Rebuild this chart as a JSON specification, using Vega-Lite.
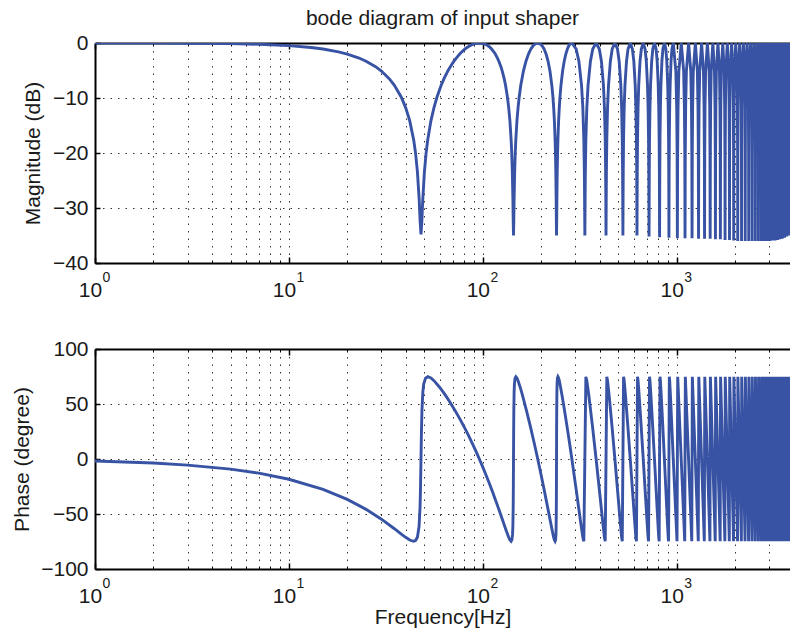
{
"$schema": "https://vega.github.io/schema/vega-lite/v6.json",
"background": "white",
"padding": {"left": 11, "top": 8, "right": 0, "bottom": 4},
"bounds": "flush",
"spacing": 86,
"datasets": {
"mag": [
{"f":1,"m":-0.005},{"f":2,"m":-0.019},{"f":3,"m":-0.042},{"f":5,"m":-0.117},{"f":7,"m":-0.23},{"f":10,"m":-0.474},{"f":13,"m":-0.811},{"f":15,"m":-1.091},{"f":18,"m":-1.603},{"f":20,"m":-2.011},{"f":23,"m":-2.735},{"f":25,"m":-3.307},{"f":28,"m":-4.311},{"f":30,"m":-5.105},{"f":33,"m":-6.532},{"f":35,"m":-7.685},{"f":38,"m":-9.858},{"f":40,"m":-11.74},{"f":42,"m":-14.16},{"f":44,"m":-17.61},{"f":45,"m":-20.03},{"f":46,"m":-23.38},{"f":47,"m":-28.58},{"f":47.5,"m":-32.34},{"f":48,"m":-34.8},
{"f":48.5,"m":-32.34},{"f":49,"m":-28.58},{"f":50,"m":-23.38},{"f":51,"m":-20.03},{"f":52,"m":-17.61},{"f":54,"m":-14.16},{"f":56,"m":-11.74},{"f":58,"m":-9.86},{"f":61,"m":-7.69},{"f":63,"m":-6.53},{"f":66,"m":-5.1},{"f":68,"m":-4.31},{"f":71,"m":-3.31},{"f":73,"m":-2.74},{"f":76,"m":-2.01},{"f":78,"m":-1.6},{"f":81,"m":-1.09},{"f":83,"m":-0.81},{"f":86,"m":-0.47},{"f":89,"m":-0.23},{"f":91,"m":-0.117},{"f":93,"m":-0.042},{"f":96,"m":0},
{"f":99,"m":-0.042},{"f":101,"m":-0.117},{"f":103,"m":-0.23},{"f":106,"m":-0.47},{"f":109,"m":-0.81},{"f":111,"m":-1.09},{"f":114,"m":-1.6},{"f":116,"m":-2.01},{"f":119,"m":-2.74},{"f":121,"m":-3.31},{"f":124,"m":-4.31},{"f":126,"m":-5.1},{"f":129,"m":-6.53},{"f":131,"m":-7.69},{"f":134,"m":-9.86},{"f":136,"m":-11.74},{"f":138,"m":-14.16},{"f":140,"m":-17.61},{"f":141,"m":-20.03},{"f":142,"m":-23.38},{"f":143,"m":-28.58},{"f":143.5,"m":-32.34},{"f":144,"m":-35},
{"f":144.5,"m":-32.34},{"f":145,"m":-28.58},{"f":146,"m":-23.38},{"f":147,"m":-20.03},{"f":148,"m":-17.61},{"f":150,"m":-14.16},{"f":152,"m":-11.74},{"f":154,"m":-9.86},{"f":157,"m":-7.69},{"f":162,"m":-5.1},{"f":167,"m":-3.31},{"f":172,"m":-2.01},{"f":177,"m":-1.09},{"f":182,"m":-0.47},{"f":187,"m":-0.117},{"f":192,"m":0},
{"f":197,"m":-0.117},{"f":202,"m":-0.47},{"f":207,"m":-1.09},{"f":212,"m":-2.01},{"f":217,"m":-3.31},{"f":222,"m":-5.1},{"f":227,"m":-7.69},{"f":230,"m":-9.86},{"f":232,"m":-11.74},{"f":234,"m":-14.16},{"f":236,"m":-17.61},{"f":237,"m":-20.03},{"f":238,"m":-23.38},{"f":239,"m":-28.58},{"f":239.5,"m":-32.34},{"f":240,"m":-35},
{"f":240.5,"m":-32.34},{"f":241,"m":-28.58},{"f":242,"m":-23.38},{"f":243,"m":-20.03},{"f":244,"m":-17.61},{"f":246,"m":-14.16},{"f":248,"m":-11.74},{"f":250,"m":-9.86},{"f":253,"m":-7.69},{"f":258,"m":-5.1},{"f":263,"m":-3.31},{"f":268,"m":-2.01},{"f":273,"m":-1.09},{"f":278,"m":-0.47},{"f":283,"m":-0.117},{"f":288,"m":0},
{"f":303,"m":-1.09},{"f":313,"m":-3.31},{"f":323,"m":-7.69},{"f":328,"m":-11.74},{"f":332,"m":-17.61},{"f":334,"m":-23.38},{"f":335,"m":-28.58},{"f":336,"m":-35},{"f":337,"m":-28.58},{"f":338,"m":-23.38},{"f":340,"m":-17.61},{"f":344,"m":-11.74},{"f":349,"m":-7.69},{"f":359,"m":-3.31},{"f":369,"m":-1.09},{"f":384,"m":0},
{"f":399,"m":-1.09},{"f":409,"m":-3.31},{"f":419,"m":-7.69},{"f":424,"m":-11.74},{"f":428,"m":-17.61},{"f":430,"m":-23.38},{"f":431,"m":-28.58},{"f":432,"m":-35},{"f":433,"m":-28.58},{"f":434,"m":-23.38},{"f":436,"m":-17.61},{"f":440,"m":-11.74},{"f":445,"m":-7.69},{"f":455,"m":-3.31},{"f":465,"m":-1.09},{"f":480,"m":0},
{"f":495,"m":-1.09},{"f":505,"m":-3.31},{"f":515,"m":-7.69},{"f":520,"m":-11.74},{"f":524,"m":-17.61},{"f":526,"m":-23.38},{"f":527,"m":-28.58},{"f":528,"m":-35},{"f":529,"m":-28.58},{"f":530,"m":-23.38},{"f":532,"m":-17.61},{"f":536,"m":-11.74},{"f":541,"m":-7.69},{"f":551,"m":-3.31},{"f":561,"m":-1.09},{"f":576,"m":0},
{"f":591,"m":-1.09},{"f":601,"m":-3.31},{"f":611,"m":-7.69},{"f":616,"m":-11.74},{"f":620,"m":-17.61},{"f":622,"m":-23.38},{"f":623,"m":-28.58},{"f":624,"m":-35},{"f":625,"m":-28.58},{"f":626,"m":-23.38},{"f":628,"m":-17.61},{"f":632,"m":-11.74},{"f":637,"m":-7.69},{"f":647,"m":-3.31},{"f":657,"m":-1.09},{"f":672,"m":0},
{"f":687,"m":-1.09},{"f":697,"m":-3.31},{"f":707,"m":-7.69},{"f":712,"m":-11.74},{"f":716,"m":-17.61},{"f":718,"m":-23.38},{"f":719,"m":-28.58},{"f":720,"m":-35.2},{"f":721,"m":-28.58},{"f":722,"m":-23.38},{"f":724,"m":-17.61},{"f":728,"m":-11.74},{"f":733,"m":-7.69},{"f":743,"m":-3.31},{"f":753,"m":-1.09},{"f":768,"m":0},
{"f":783,"m":-1.09},{"f":793,"m":-3.31},{"f":803,"m":-7.69},{"f":808,"m":-11.74},{"f":812,"m":-17.61},{"f":814,"m":-23.38},{"f":815,"m":-28.58},{"f":816,"m":-35.3},{"f":817,"m":-28.58},{"f":818,"m":-23.38},{"f":820,"m":-17.61},{"f":824,"m":-11.74},{"f":829,"m":-7.69},{"f":839,"m":-3.31},{"f":849,"m":-1.09},{"f":864,"m":0},
{"f":879,"m":-1.09},{"f":889,"m":-3.31},{"f":899,"m":-7.69},{"f":904,"m":-11.74},{"f":908,"m":-17.61},{"f":910,"m":-23.38},{"f":911,"m":-28.58},{"f":912,"m":-35.4},{"f":913,"m":-28.58},{"f":914,"m":-23.38},{"f":916,"m":-17.61},{"f":920,"m":-11.74},{"f":925,"m":-7.69},{"f":935,"m":-3.31},{"f":945,"m":-1.09},{"f":960,"m":0},
{"f":990,"m":-5.1},{"f":1000,"m":-11.74},{"f":1005,"m":-20.03},{"f":1008,"m":-35.5},{"f":1011,"m":-20.03},{"f":1016,"m":-11.74},{"f":1026,"m":-5.1},{"f":1056,"m":0},
{"f":1086,"m":-5.1},{"f":1096,"m":-11.74},{"f":1101,"m":-20.03},{"f":1104,"m":-35.5},{"f":1107,"m":-20.03},{"f":1112,"m":-11.74},{"f":1122,"m":-5.1},{"f":1152,"m":0},
{"f":1182,"m":-5.1},{"f":1192,"m":-11.74},{"f":1197,"m":-20.03},{"f":1200,"m":-35.5},{"f":1203,"m":-20.03},{"f":1208,"m":-11.74},{"f":1218,"m":-5.1},{"f":1248,"m":0},
{"f":1278,"m":-5.1},{"f":1288,"m":-11.74},{"f":1293,"m":-20.03},{"f":1296,"m":-35.6},{"f":1299,"m":-20.03},{"f":1304,"m":-11.74},{"f":1314,"m":-5.1},{"f":1344,"m":0},
{"f":1374,"m":-5.1},{"f":1384,"m":-11.74},{"f":1389,"m":-20.03},{"f":1392,"m":-35.6},{"f":1395,"m":-20.03},{"f":1400,"m":-11.74},{"f":1410,"m":-5.1},{"f":1440,"m":0},
{"f":1470,"m":-5.1},{"f":1480,"m":-11.74},{"f":1485,"m":-20.03},{"f":1488,"m":-35.6},{"f":1491,"m":-20.03},{"f":1496,"m":-11.74},{"f":1506,"m":-5.1},{"f":1536,"m":0},
{"f":1566,"m":-5.1},{"f":1576,"m":-11.74},{"f":1581,"m":-20.03},{"f":1584,"m":-35.7},{"f":1587,"m":-20.03},{"f":1592,"m":-11.74},{"f":1602,"m":-5.1},{"f":1632,"m":0},
{"f":1662,"m":-5.1},{"f":1672,"m":-11.74},{"f":1677,"m":-20.03},{"f":1680,"m":-35.7},{"f":1683,"m":-20.03},{"f":1688,"m":-11.74},{"f":1698,"m":-5.1},{"f":1728,"m":0},
{"f":1758,"m":-5.1},{"f":1768,"m":-11.74},{"f":1773,"m":-20.03},{"f":1776,"m":-35.8},{"f":1779,"m":-20.03},{"f":1784,"m":-11.74},{"f":1794,"m":-5.1},{"f":1824,"m":0},
{"f":1854,"m":-5.1},{"f":1864,"m":-11.74},{"f":1869,"m":-20.03},{"f":1872,"m":-35.8},{"f":1875,"m":-20.03},{"f":1880,"m":-11.74},{"f":1890,"m":-5.1},{"f":1920,"m":0},
{"f":1950,"m":-5.1},{"f":1960,"m":-11.74},{"f":1965,"m":-20.03},{"f":1968,"m":-35.9},{"f":1971,"m":-20.03},{"f":1976,"m":-11.74},{"f":1986,"m":-5.1},{"f":2016,"m":0},
{"f":2046,"m":-5.1},{"f":2056,"m":-11.74},{"f":2061,"m":-20.03},{"f":2064,"m":-36},{"f":2067,"m":-20.03},{"f":2072,"m":-11.74},{"f":2082,"m":-5.1},{"f":2112,"m":0},
{"f":2142,"m":-5.1},{"f":2152,"m":-11.74},{"f":2157,"m":-20.03},{"f":2160,"m":-36},{"f":2163,"m":-20.03},{"f":2168,"m":-11.74},{"f":2178,"m":-5.1},{"f":2208,"m":0},
{"f":2238,"m":-5.1},{"f":2248,"m":-11.74},{"f":2253,"m":-20.03},{"f":2256,"m":-36},{"f":2259,"m":-20.03},{"f":2264,"m":-11.74},{"f":2274,"m":-5.1},{"f":2304,"m":0},
{"f":2334,"m":-5.1},{"f":2344,"m":-11.74},{"f":2349,"m":-20.03},{"f":2352,"m":-36},{"f":2355,"m":-20.03},{"f":2360,"m":-11.74},{"f":2370,"m":-5.1},{"f":2400,"m":0},
{"f":2430,"m":-5.1},{"f":2440,"m":-11.74},{"f":2445,"m":-20.03},{"f":2448,"m":-36},{"f":2451,"m":-20.03},{"f":2456,"m":-11.74},{"f":2466,"m":-5.1},{"f":2496,"m":0},
{"f":2526,"m":-5.1},{"f":2536,"m":-11.74},{"f":2541,"m":-20.03},{"f":2544,"m":-36},{"f":2547,"m":-20.03},{"f":2552,"m":-11.74},{"f":2562,"m":-5.1},{"f":2592,"m":0},
{"f":2622,"m":-5.1},{"f":2632,"m":-11.74},{"f":2637,"m":-20.03},{"f":2640,"m":-36},{"f":2643,"m":-20.03},{"f":2648,"m":-11.74},{"f":2658,"m":-5.1},{"f":2688,"m":0},
{"f":2718,"m":-5.1},{"f":2728,"m":-11.74},{"f":2733,"m":-20.03},{"f":2736,"m":-36},{"f":2739,"m":-20.03},{"f":2744,"m":-11.74},{"f":2754,"m":-5.1},{"f":2784,"m":0},
{"f":2814,"m":-5.1},{"f":2824,"m":-11.74},{"f":2829,"m":-20.03},{"f":2832,"m":-36},{"f":2835,"m":-20.03},{"f":2840,"m":-11.74},{"f":2850,"m":-5.1},{"f":2880,"m":0},
{"f":2910,"m":-5.1},{"f":2920,"m":-11.74},{"f":2925,"m":-20.03},{"f":2928,"m":-36},{"f":2931,"m":-20.03},{"f":2936,"m":-11.74},{"f":2946,"m":-5.1},{"f":2976,"m":0},
{"f":3006,"m":-5.1},{"f":3016,"m":-11.74},{"f":3021,"m":-20.03},{"f":3024,"m":-36},{"f":3027,"m":-20.03},{"f":3032,"m":-11.74},{"f":3042,"m":-5.1},{"f":3072,"m":0},
{"f":3102,"m":-5.1},{"f":3112,"m":-11.74},{"f":3117,"m":-20.03},{"f":3120,"m":-35.9},{"f":3123,"m":-20.03},{"f":3128,"m":-11.74},{"f":3138,"m":-5.1},{"f":3168,"m":0},
{"f":3198,"m":-5.1},{"f":3208,"m":-11.74},{"f":3213,"m":-20.03},{"f":3216,"m":-35.9},{"f":3219,"m":-20.03},{"f":3224,"m":-11.74},{"f":3234,"m":-5.1},{"f":3264,"m":0},
{"f":3294,"m":-5.1},{"f":3304,"m":-11.74},{"f":3309,"m":-20.03},{"f":3312,"m":-35.8},{"f":3315,"m":-20.03},{"f":3320,"m":-11.74},{"f":3330,"m":-5.1},{"f":3360,"m":0},
{"f":3390,"m":-5.1},{"f":3400,"m":-11.74},{"f":3405,"m":-20.03},{"f":3408,"m":-35.7},{"f":3411,"m":-20.03},{"f":3416,"m":-11.74},{"f":3426,"m":-5.1},{"f":3456,"m":0},
{"f":3486,"m":-5.1},{"f":3496,"m":-11.74},{"f":3501,"m":-20.03},{"f":3504,"m":-35.6},{"f":3507,"m":-20.03},{"f":3512,"m":-11.74},{"f":3522,"m":-5.1},{"f":3552,"m":0},
{"f":3582,"m":-5.1},{"f":3592,"m":-11.74},{"f":3597,"m":-20.03},{"f":3600,"m":-35.4},{"f":3603,"m":-20.03},{"f":3608,"m":-11.74},{"f":3618,"m":-5.1},{"f":3648,"m":0},
{"f":3678,"m":-5.1},{"f":3688,"m":-11.74},{"f":3693,"m":-20.03},{"f":3696,"m":-35.2},{"f":3699,"m":-20.03},{"f":3704,"m":-11.74},{"f":3714,"m":-5.1},{"f":3744,"m":0},
{"f":3774,"m":-5.1},{"f":3784,"m":-11.74},{"f":3789,"m":-20.03},{"f":3792,"m":-35},{"f":3795,"m":-20.03},{"f":3800,"m":-11.74},{"f":3810,"m":-5.1},{"f":3840,"m":0}
],
"ph": [
{"f":1,"p":-1.84},{"f":2,"p":-3.68},{"f":3,"p":-5.52},{"f":5,"p":-9.21},{"f":7,"p":-12.89},{"f":10,"p":-18.4},{"f":15,"p":-27.58},{"f":20,"p":-36.72},{"f":25,"p":-45.79},{"f":30,"p":-54.73},{"f":35,"p":-63.38},{"f":38,"p":-68.25},{"f":40,"p":-71.2},{"f":42,"p":-73.64},{"f":43.91,"p":-74.8},{"f":45,"p":-74.15},{"f":46,"p":-71.07},{"f":46.93,"p":-61},{"f":47.47,"p":-43.5},{"f":47.73,"p":-25.7},{"f":48,"p":0},
{"f":48.27,"p":25.7},{"f":48.53,"p":43.5},{"f":49.07,"p":61},{"f":49.6,"p":68.3},{"f":50.67,"p":73.5},{"f":52.09,"p":74.8},{"f":54,"p":73.64},{"f":56,"p":71.2},{"f":60,"p":65.04},{"f":64,"p":58.24},{"f":68,"p":51.17},{"f":72,"p":43.98},{"f":76,"p":36.72},{"f":80,"p":29.41},{"f":84,"p":22.08},{"f":88,"p":14.73},{"f":92,"p":7.37},{"f":96,"p":0},
{"f":100,"p":-7.37},{"f":104,"p":-14.73},{"f":108,"p":-22.08},{"f":112,"p":-29.41},{"f":116,"p":-36.72},{"f":120,"p":-43.98},{"f":124,"p":-51.17},{"f":128,"p":-58.24},{"f":132,"p":-65.04},{"f":136,"p":-71.2},{"f":138,"p":-73.64},{"f":139.91,"p":-74.8},{"f":141.33,"p":-73.5},{"f":142.4,"p":-68.3},{"f":142.93,"p":-61},{"f":143.47,"p":-43.5},{"f":143.73,"p":-25.7},{"f":144,"p":0},
{"f":144.27,"p":25.7},{"f":144.53,"p":43.5},{"f":145.07,"p":61},{"f":145.6,"p":68.3},{"f":146.67,"p":73.5},{"f":148.09,"p":74.8},{"f":150,"p":73.64},{"f":152,"p":71.2},{"f":156,"p":65.04},{"f":160,"p":58.24},{"f":168,"p":43.98},{"f":176,"p":29.41},{"f":184,"p":14.73},{"f":192,"p":0},
{"f":200,"p":-14.73},{"f":208,"p":-29.41},{"f":216,"p":-43.98},{"f":224,"p":-58.24},{"f":228,"p":-65.04},{"f":232,"p":-71.2},{"f":234,"p":-73.64},{"f":235.91,"p":-74.8},{"f":237.33,"p":-73.5},{"f":238.4,"p":-68.3},{"f":238.93,"p":-61},{"f":239.47,"p":-43.5},{"f":239.73,"p":-25.7},{"f":240,"p":0},
{"f":240.27,"p":25.7},{"f":240.53,"p":43.5},{"f":241.07,"p":61},{"f":241.6,"p":68.3},{"f":242.67,"p":73.5},{"f":244.09,"p":74.8},{"f":246,"p":73.64},{"f":248,"p":71.2},{"f":252,"p":65.04},{"f":256,"p":58.24},{"f":264,"p":43.98},{"f":272,"p":29.41},{"f":280,"p":14.73},{"f":288,"p":0},
{"f":304,"p":-29.41},{"f":320,"p":-58.24},{"f":328,"p":-71.2},{"f":331.91,"p":-74.8},{"f":340.09,"p":74.8},{"f":344,"p":71.2},{"f":352,"p":58.24},{"f":368,"p":29.41},{"f":384,"p":0},
{"f":400,"p":-29.41},{"f":416,"p":-58.24},{"f":424,"p":-71.2},{"f":427.91,"p":-74.8},{"f":436.09,"p":74.8},{"f":440,"p":71.2},{"f":448,"p":58.24},{"f":464,"p":29.41},{"f":480,"p":0},
{"f":496,"p":-29.41},{"f":512,"p":-58.24},{"f":520,"p":-71.2},{"f":523.91,"p":-74.8},{"f":532.09,"p":74.8},{"f":536,"p":71.2},{"f":544,"p":58.24},{"f":560,"p":29.41},{"f":576,"p":0},
{"f":592,"p":-29.41},{"f":608,"p":-58.24},{"f":616,"p":-71.2},{"f":619.91,"p":-74.8},{"f":628.09,"p":74.8},{"f":632,"p":71.2},{"f":640,"p":58.24},{"f":656,"p":29.41},{"f":672,"p":0},
{"f":688,"p":-29.41},{"f":704,"p":-58.24},{"f":712,"p":-71.2},{"f":715.91,"p":-74.8},{"f":724.09,"p":74.8},{"f":728,"p":71.2},{"f":736,"p":58.24},{"f":752,"p":29.41},{"f":768,"p":0},
{"f":784,"p":-29.41},{"f":800,"p":-58.24},{"f":808,"p":-71.2},{"f":811.91,"p":-74.8},{"f":820.09,"p":74.8},{"f":824,"p":71.2},{"f":832,"p":58.24},{"f":848,"p":29.41},{"f":864,"p":0},
{"f":880,"p":-29.41},{"f":896,"p":-58.24},{"f":904,"p":-71.2},{"f":907.91,"p":-74.8},{"f":916.09,"p":74.8},{"f":920,"p":71.2},{"f":928,"p":58.24},{"f":944,"p":29.41},{"f":960,"p":0},
{"f":1003.91,"p":-74.8},{"f":1012.09,"p":74.8},{"f":1099.91,"p":-74.8},{"f":1108.09,"p":74.8},{"f":1195.91,"p":-74.8},{"f":1204.09,"p":74.8},{"f":1291.91,"p":-74.8},{"f":1300.09,"p":74.8},{"f":1387.91,"p":-74.8},{"f":1396.09,"p":74.8},{"f":1483.91,"p":-74.8},{"f":1492.09,"p":74.8},{"f":1579.91,"p":-74.8},{"f":1588.09,"p":74.8},{"f":1675.91,"p":-74.8},{"f":1684.09,"p":74.8},{"f":1771.91,"p":-74.8},{"f":1780.09,"p":74.8},{"f":1867.91,"p":-74.8},{"f":1876.09,"p":74.8},{"f":1963.91,"p":-74.8},{"f":1972.09,"p":74.8},{"f":2059.91,"p":-74.8},{"f":2068.09,"p":74.8},{"f":2155.91,"p":-74.8},{"f":2164.09,"p":74.8},{"f":2251.91,"p":-74.8},{"f":2260.09,"p":74.8},{"f":2347.91,"p":-74.8},{"f":2356.09,"p":74.8},{"f":2443.91,"p":-74.8},{"f":2452.09,"p":74.8},{"f":2539.91,"p":-74.8},{"f":2548.09,"p":74.8},{"f":2635.91,"p":-74.8},{"f":2644.09,"p":74.8},{"f":2731.91,"p":-74.8},{"f":2740.09,"p":74.8},{"f":2827.91,"p":-74.8},{"f":2836.09,"p":74.8},{"f":2923.91,"p":-74.8},{"f":2932.09,"p":74.8},{"f":3019.91,"p":-74.8},{"f":3028.09,"p":74.8},{"f":3115.91,"p":-74.8},{"f":3124.09,"p":74.8},{"f":3211.91,"p":-74.8},{"f":3220.09,"p":74.8},{"f":3307.91,"p":-74.8},{"f":3316.09,"p":74.8},{"f":3403.91,"p":-74.8},{"f":3412.09,"p":74.8},{"f":3499.91,"p":-74.8},{"f":3508.09,"p":74.8},{"f":3595.91,"p":-74.8},{"f":3604.09,"p":74.8},{"f":3691.91,"p":-74.8},{"f":3700.09,"p":74.8},{"f":3787.91,"p":-74.8},{"f":3796.09,"p":74.8},{"f":3840,"p":0}
],
"ends": [{"f":1,"v":-20},{"f":3840,"v":-20}]
},
"vconcat": [
{
"width": 695, "height": 220,
"title": {"text": "bode diagram of input shaper", "fontSize": 21, "fontWeight": "normal", "font": "Liberation Sans", "color": "#1a1a1a", "offset": 3},
"resolve": {"axis": {"x": "independent", "y": "independent"}},
"layer": [
{"data": {"name": "mag"},
 "mark": {"type": "line", "color": "#3953a4", "strokeWidth": 2.9, "clip": true},
 "encoding": {
  "x": {"field": "f", "type": "quantitative", "scale": {"type": "log", "domain": [1, 3840], "nice": false},
        "axis": {"orient": "bottom", "values": [1, 10, 100, 1000], "labelExpr": "'10'", "labelFlush": false, "labelOverlap": false, "tickSize": -6, "tickWidth": 1.5, "grid": false, "domain": true, "domainWidth": 2, "labelPadding": 22, "labelOffset": -5, "title": null}},
  "y": {"field": "m", "type": "quantitative", "scale": {"domain": [-40, 0], "nice": false, "zero": false},
        "axis": {"orient": "left", "values": [-40, -30, -20, -10, 0], "labelFlush": false, "labelOverlap": false, "tickSize": -5, "tickWidth": 1.5, "grid": true, "gridDash": [1.5, 6], "gridColor": "#000", "gridOpacity": 0.8, "domain": true, "domainWidth": 2, "labelPadding": 12, "title": "Magnitude (dB)", "titlePadding": 9}}
 }},
{"data": {"name": "ends"}, "mark": {"type": "point", "opacity": 0},
 "encoding": {"x": {"field": "f", "type": "quantitative", "scale": {"type": "log", "domain": [1, 3840], "nice": false},
   "axis": {"orient": "bottom", "values": [2,3,4,5,6,7,8,9,10,20,30,40,50,60,70,80,90,100,200,300,400,500,600,700,800,900,1000,2000,3000], "labels": false, "tickSize": -3, "tickWidth": 1, "grid": true, "gridDash": [1.5, 6], "gridColor": "#000", "gridOpacity": 0.8, "domain": false, "title": null}},
   "y": {"field": "v", "type": "quantitative", "scale": {"domain": [-40, 0], "nice": false, "zero": false}, "axis": null}}},
{"data": {"name": "ends"}, "mark": {"type": "point", "opacity": 0},
 "encoding": {"x": {"field": "f", "type": "quantitative", "scale": {"type": "log", "domain": [1, 3840], "nice": false},
   "axis": {"orient": "top", "values": [1, 10, 100, 1000], "labels": false, "tickSize": -6, "tickWidth": 1.5, "grid": false, "domain": true, "domainWidth": 2, "title": null}},
   "y": {"field": "v", "type": "quantitative", "scale": {"domain": [-40, 0], "nice": false, "zero": false}, "axis": null}}},
{"data": {"name": "ends"}, "mark": {"type": "point", "opacity": 0},
 "encoding": {"x": {"field": "f", "type": "quantitative", "scale": {"type": "log", "domain": [1, 3840], "nice": false},
   "axis": {"orient": "top", "values": [2,3,4,5,6,7,8,9,20,30,40,50,60,70,80,90,200,300,400,500,600,700,800,900,2000,3000], "labels": false, "tickSize": -3, "tickWidth": 1, "grid": false, "domain": false, "title": null}},
   "y": {"field": "v", "type": "quantitative", "scale": {"domain": [-40, 0], "nice": false, "zero": false}, "axis": null}}},
{"data": {"name": "ends"}, "mark": {"type": "point", "opacity": 0},
 "encoding": {"x": {"field": "f", "type": "quantitative", "scale": {"type": "log", "domain": [1, 3840], "nice": false},
   "axis": {"orient": "bottom", "values": [1, 10, 100, 1000], "labelExpr": "datum.value == 1 ? '0' : datum.value == 10 ? '1' : datum.value == 100 ? '2' : '3'", "labelFlush": false, "labelOverlap": false, "ticks": false, "grid": false, "domain": false, "labelFontSize": 14, "labelPadding": 7, "labelOffset": 11, "title": null}},
   "y": {"field": "v", "type": "quantitative", "scale": {"domain": [-40, 0], "nice": false, "zero": false}, "axis": null}}}
]
},
{
"width": 695, "height": 220,
"resolve": {"axis": {"x": "independent", "y": "independent"}},
"layer": [
{"data": {"name": "ph"},
 "mark": {"type": "line", "color": "#3953a4", "strokeWidth": 2.9, "clip": true},
 "encoding": {
  "x": {"field": "f", "type": "quantitative", "scale": {"type": "log", "domain": [1, 3840], "nice": false},
        "axis": {"orient": "bottom", "values": [1, 10, 100, 1000], "labelExpr": "'10'", "labelFlush": false, "labelOverlap": false, "tickSize": -6, "tickWidth": 1.5, "grid": false, "domain": true, "domainWidth": 2, "labelPadding": 22, "labelOffset": -5, "title": "Frequency[Hz]", "titlePadding": 0}},
  "y": {"field": "p", "type": "quantitative", "scale": {"domain": [-100, 100], "nice": false, "zero": false},
        "axis": {"orient": "left", "values": [-100, -50, 0, 50, 100], "labelFlush": false, "labelOverlap": false, "tickSize": -5, "tickWidth": 1.5, "grid": true, "gridDash": [1.5, 6], "gridColor": "#000", "gridOpacity": 0.8, "domain": true, "domainWidth": 2, "labelPadding": 12, "title": "Phase (degree)", "titlePadding": 8}}
 }},
{"data": {"name": "ends"}, "mark": {"type": "point", "opacity": 0},
 "encoding": {"x": {"field": "f", "type": "quantitative", "scale": {"type": "log", "domain": [1, 3840], "nice": false},
   "axis": {"orient": "bottom", "values": [2,3,4,5,6,7,8,9,10,20,30,40,50,60,70,80,90,100,200,300,400,500,600,700,800,900,1000,2000,3000], "labels": false, "tickSize": -3, "tickWidth": 1, "grid": true, "gridDash": [1.5, 6], "gridColor": "#000", "gridOpacity": 0.8, "domain": false, "title": null}},
   "y": {"field": "v", "type": "quantitative", "scale": {"domain": [-100, 100], "nice": false, "zero": false}, "axis": null}}},
{"data": {"name": "ends"}, "mark": {"type": "point", "opacity": 0},
 "encoding": {"x": {"field": "f", "type": "quantitative", "scale": {"type": "log", "domain": [1, 3840], "nice": false},
   "axis": {"orient": "top", "values": [1, 10, 100, 1000], "labels": false, "tickSize": -6, "tickWidth": 1.5, "grid": false, "domain": true, "domainWidth": 2, "title": null}},
   "y": {"field": "v", "type": "quantitative", "scale": {"domain": [-100, 100], "nice": false, "zero": false}, "axis": null}}},
{"data": {"name": "ends"}, "mark": {"type": "point", "opacity": 0},
 "encoding": {"x": {"field": "f", "type": "quantitative", "scale": {"type": "log", "domain": [1, 3840], "nice": false},
   "axis": {"orient": "top", "values": [2,3,4,5,6,7,8,9,20,30,40,50,60,70,80,90,200,300,400,500,600,700,800,900,2000,3000], "labels": false, "tickSize": -3, "tickWidth": 1, "grid": false, "domain": false, "title": null}},
   "y": {"field": "v", "type": "quantitative", "scale": {"domain": [-100, 100], "nice": false, "zero": false}, "axis": null}}},
{"data": {"name": "ends"}, "mark": {"type": "point", "opacity": 0},
 "encoding": {"x": {"field": "f", "type": "quantitative", "scale": {"type": "log", "domain": [1, 3840], "nice": false},
   "axis": {"orient": "bottom", "values": [1, 10, 100, 1000], "labelExpr": "datum.value == 1 ? '0' : datum.value == 10 ? '1' : datum.value == 100 ? '2' : '3'", "labelFlush": false, "labelOverlap": false, "ticks": false, "grid": false, "domain": false, "labelFontSize": 14, "labelPadding": 7, "labelOffset": 11, "title": null}},
   "y": {"field": "v", "type": "quantitative", "scale": {"domain": [-100, 100], "nice": false, "zero": false}, "axis": null}}}
]
}
],
"config": {
 "view": {"stroke": null},
 "font": "Liberation Sans",
 "axis": {"labelFont": "Liberation Sans", "titleFont": "Liberation Sans", "labelFontSize": 21, "titleFontSize": 21, "titleFontWeight": "normal", "labelColor": "#1a1a1a", "titleColor": "#1a1a1a", "tickColor": "#000", "domainColor": "#000"}
}
}
